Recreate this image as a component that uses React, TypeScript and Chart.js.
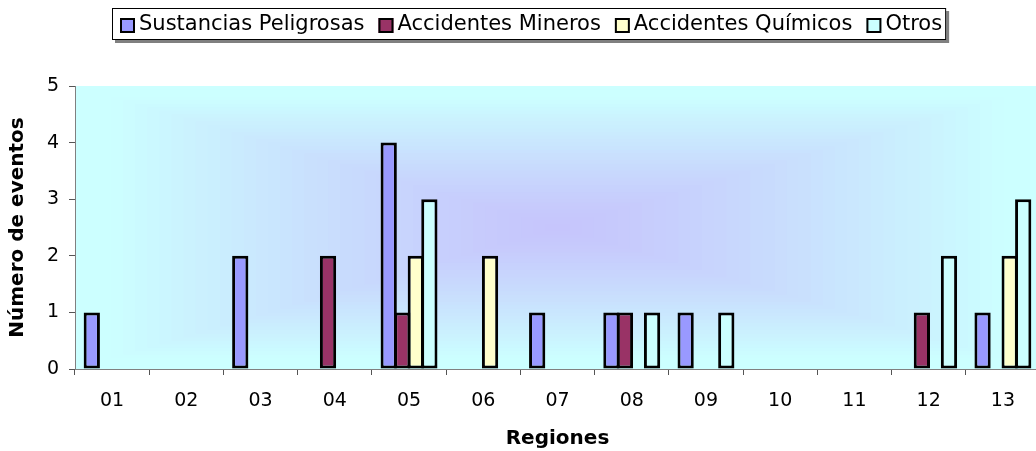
import React, { useEffect, useRef } from "react";
import { Chart, registerables } from "chart.js";

Chart.register(...registerables);

const regions = ["01", "02", "03", "04", "05", "06", "07", "08", "09", "10", "11", "12", "13"];
const sustanciasPeligrosas = [1, 0, 2, 0, 4, 0, 1, 1, 1, 0, 0, 0, 1];
const accidentesMineros = [0, 0, 0, 2, 1, 0, 0, 1, 0, 0, 0, 1, 0];
const accidentesQuimicos = [0, 0, 0, 0, 2, 2, 0, 0, 0, 0, 0, 0, 2];
const otros = [0, 0, 0, 0, 3, 0, 0, 1, 1, 0, 0, 2, 3];
const seriesNames = ["Sustancias Peligrosas", "Accidentes Mineros", "Accidentes Químicos", "Otros"];
const seriesColors = ["#9999FF", "#993366", "#FFFFCC", "#CCFFFF"];
const yMin = 0;
const yMax = 5;
const yStep = 1;
const xTitle = "Regiones";
const yTitle = "Número de eventos";

const FONT = "'DejaVu Sans', Verdana, sans-serif";

function mix(a: number[], b: number[], t: number) {
  return `rgb(${Math.round(a[0] + (b[0] - a[0]) * t)},${Math.round(a[1] + (b[1] - a[1]) * t)},${Math.round(
    a[2] + (b[2] - a[2]) * t
  )})`;
}

const backgroundPlugin = {
  id: "plotGradient",
  beforeDraw(chart: any) {
    const { ctx, chartArea } = chart;
    const { left, top, right, bottom } = chartArea;
    const cx = (left + right) / 2;
    const cy = (top + bottom) / 2;
    const hw = (right - left) / 2;
    const hh = (bottom - top) / 2;
    const center = [198, 196, 252];
    const edge = [204, 255, 255];
    const steps = 40;
    ctx.save();
    for (let i = 0; i < steps; i++) {
      const t = 1 - i / steps;
      ctx.fillStyle = mix(center, edge, Math.min(1, Math.pow(t, 1.25) * 1.08));
      ctx.fillRect(cx - hw * t, cy - hh * t, hw * 2 * t, hh * 2 * t);
    }
    ctx.restore();
  },
};

const legendPlugin = {
  id: "boxedLegend",
  afterDraw(chart: any) {
    const ctx = chart.ctx;
    ctx.save();
    ctx.font = `21px ${FONT}`;
    const left = 112;
    const top = 8;
    const height = 32;
    const boxSize = 15;
    const boxGap = 4;
    const itemGap = 14;
    const padL = 8;
    const padR = 4;
    const widths = seriesNames.map((n) => ctx.measureText(n).width);
    let total = padL + padR;
    widths.forEach((w, i) => {
      total += boxSize + boxGap + w + (i < widths.length - 1 ? itemGap : 0);
    });
    ctx.fillStyle = "#808080";
    ctx.fillRect(left + 3, top + 3, total, height);
    ctx.fillStyle = "#FFFFFF";
    ctx.fillRect(left, top, total, height);
    ctx.strokeStyle = "#000000";
    ctx.lineWidth = 1;
    ctx.strokeRect(left + 0.5, top + 0.5, total - 1, height - 1);
    let x = left + padL;
    const midY = top + height / 2 + 1;
    seriesNames.forEach((name, i) => {
      const by = Math.round(midY - boxSize / 2);
      ctx.fillStyle = seriesColors[i];
      ctx.fillRect(x, by, boxSize, boxSize);
      ctx.strokeStyle = "#000000";
      ctx.lineWidth = 2;
      ctx.strokeRect(x + 1, by + 1, boxSize - 2, boxSize - 2);
      ctx.fillStyle = "#000000";
      ctx.textBaseline = "middle";
      ctx.textAlign = "left";
      ctx.fillText(name, x + boxSize + boxGap, midY);
      x += boxSize + boxGap + widths[i] + itemGap;
    });
    ctx.restore();
  },
};

export default function App() {
  const canvasRef = useRef<HTMLCanvasElement | null>(null);

  useEffect(() => {
    if (!canvasRef.current) return;
    const allSeries = [sustanciasPeligrosas, accidentesMineros, accidentesQuimicos, otros];
    const chart = new Chart(canvasRef.current, {
      type: "bar",
      data: {
        labels: regions,
        datasets: allSeries.map((data, i) => ({
          label: seriesNames[i],
          data,
          backgroundColor: seriesColors[i],
          borderColor: "#000000",
          borderWidth: (c: any) => (c.raw ? 3 : 0),
          borderSkipped: false,
          barPercentage: 1.2,
          categoryPercentage: 0.73,
        })),
      },
      options: {
        animation: false,
        responsive: false,
        events: [],
        layout: { padding: { top: 86, left: 0, right: 0, bottom: 0 } },
        plugins: {
          legend: { display: false },
          tooltip: { enabled: false },
          title: { display: false },
        },
        scales: {
          x: {
            offset: true,
            grid: {
              offset: true,
              drawOnChartArea: false,
              drawTicks: true,
              tickLength: 6,
              color: "#555555",
            },
            border: { display: true, color: "#808080", width: 1 },
            ticks: {
              color: "#000000",
              font: { family: FONT, size: 19 },
              padding: 15,
              maxRotation: 0,
              autoSkip: false,
            },
            title: {
              display: true,
              text: xTitle,
              color: "#000000",
              font: { family: FONT, size: 20, weight: "bold" },
              padding: { top: 0, bottom: 0 },
            },
            afterFit: (scale: any) => {
              scale.height = 82;
            },
          },
          y: {
            min: yMin,
            max: yMax,
            grid: {
              drawOnChartArea: false,
              drawTicks: true,
              tickLength: 6,
              color: "#555555",
            },
            border: { display: true, color: "#808080", width: 1 },
            ticks: {
              stepSize: yStep,
              color: "#000000",
              font: { family: FONT, size: 19 },
              padding: 10,
            },
            title: {
              display: true,
              text: yTitle,
              color: "#000000",
              font: { family: FONT, size: 20, weight: "bold" },
              padding: { top: 6, bottom: 0 },
            },
            afterFit: (scale: any) => {
              scale.width = 75;
            },
          },
        },
      },
      plugins: [backgroundPlugin, legendPlugin],
    } as any);
    return () => chart.destroy();
  }, []);

  return (
    <div
      style={{
        position: "absolute",
        left: 0,
        top: 0,
        width: 1036,
        height: 451,
        overflow: "hidden",
        background: "#FFFFFF",
      }}
    >
      <canvas ref={canvasRef} width={1040} height={451} style={{ display: "block" }} />
    </div>
  );
}
